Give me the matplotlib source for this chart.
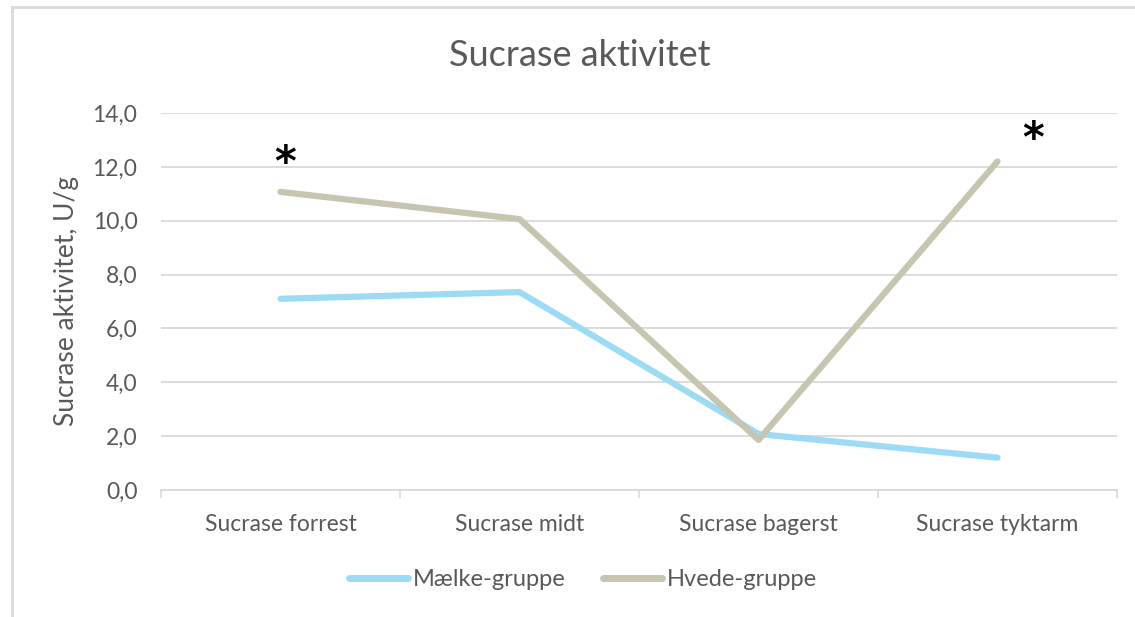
import matplotlib.pyplot as plt
import numpy as np
from matplotlib.lines import Line2D

plt.rcParams['font.family'] = ['Lato', 'DejaVu Sans']

categories = ['Sucrase forrest', 'Sucrase midt', 'Sucrase bagerst', 'Sucrase tyktarm']
maelk = [7.1, 7.35, 2.08, 1.2]
hvede = [11.07, 10.06, 1.86, 12.2]
stars_x = [0.02, 3.15]
stars_y = [12.1, 13.0]

txt = '#595959'
grid = '#D9D9D9'

fig = plt.figure(figsize=(11.35, 6.17), dpi=100)
ax = fig.add_axes([161 / 1135, 1 - 490 / 617, 956 / 1135, 377 / 617])

x = np.arange(len(categories))
ax.plot(x, maelk, color='#9DDBF5', lw=4.5, solid_capstyle='round', solid_joinstyle='round', label='Mælke-gruppe')
ax.plot(x, hvede, color='#C5C5B0', lw=4.5, solid_capstyle='round', solid_joinstyle='round', label='Hvede-gruppe')

for sx, sy in zip(stars_x, stars_y):
    ax.text(sx, sy, '*', fontsize=30, fontweight='bold', color='black',
            ha='center', va='center', family='DejaVu Sans')

ax.set_xlim(-0.5, 3.5)
ax.set_ylim(0, 14)
ax.set_yticks(np.arange(0, 15, 2))
ax.set_yticklabels([f'{v:.1f}'.replace('.', ',') for v in np.arange(0, 15, 2)])
ax.set_xticks(x)
ax.set_xticklabels(categories)
ax.set_xticks(np.arange(-0.5, 4, 1), minor=True)
ax.tick_params(axis='x', which='major', length=0, pad=17, labelsize=16.5, labelcolor=txt)
ax.tick_params(axis='x', which='minor', length=6, color=grid, width=1.2)
ax.tick_params(axis='y', length=0, pad=17, labelsize=16.5, labelcolor=txt)
ax.grid(axis='y', color=grid, lw=1.3)
ax.set_axisbelow(True)
for s in ['top', 'right', 'left']:
    ax.spines[s].set_visible(False)
ax.spines['bottom'].set_color(grid)
ax.spines['bottom'].set_linewidth(1.3)

ax.set_ylabel('Sucrase aktivitet, U/g', fontsize=19, color=txt, labelpad=10)
fig.text(580 / 1135, 1 - 55 / 617, 'Sucrase aktivitet', fontsize=26, color=txt,
         ha='center', va='center')

leg = fig.legend(loc='center', bbox_to_anchor=(583 / 1135, 1 - 580 / 617), ncol=2,
                 frameon=False, fontsize=17, handlelength=2.5, columnspacing=1.6,
                 handletextpad=0.2)
for t in leg.get_texts():
    t.set_color(txt)
for h in leg.legend_handles:
    h.set_linewidth(5)

# chart border (left and top visible)
fig.add_artist(Line2D([12 / 1135, 12 / 1135], [0, 1 - 7 / 617], color=grid, lw=2,
                      transform=fig.transFigure))
fig.add_artist(Line2D([12 / 1135, 1], [1 - 7 / 617, 1 - 7 / 617], color=grid, lw=2,
                      transform=fig.transFigure))

fig.savefig('out.png', dpi=100)
